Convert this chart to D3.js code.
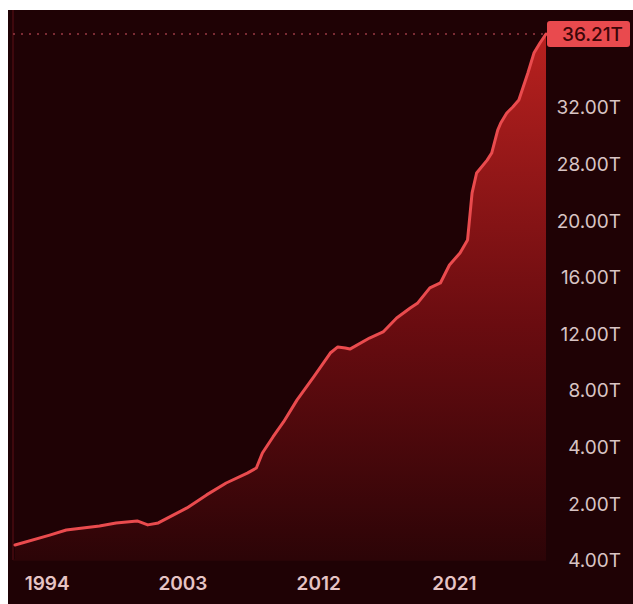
<!DOCTYPE html>
<html>
<head>
<meta charset="utf-8">
<script src="https://cdn.jsdelivr.net/npm/d3@7"></script>
<style>
  html, body { margin: 0; padding: 0; background: #fff; }
  svg { display: block; }
</style>
</head>
<body>
<svg width="633" height="604"></svg>
<script>
// Series: decimal year and value in trillions
const years = [1991.9, 1994.2, 1995.3, 1997.5, 1998.6, 2000.0, 2000.7, 2001.4, 2002.0, 2003.3,
  2004.6, 2005.9, 2007.3, 2007.9, 2008.3, 2009.0, 2009.7, 2010.6, 2011.7, 2012.8,
  2013.3, 2013.8, 2014.1, 2015.4, 2016.3, 2017.2, 2018.1, 2018.6, 2019.4, 2020.1,
  2020.7, 2021.4, 2021.9, 2022.2, 2022.5, 2023.2, 2023.5, 2023.9, 2024.1, 2024.5,
  2024.9, 2025.3, 2025.9, 2026.3, 2026.7, 2027.1];
const debt = [0.53, 0.88, 1.06, 1.20, 1.31, 1.38, 1.24, 1.31, 1.48, 1.84,
  2.30, 2.72, 3.07, 3.25, 3.78, 4.69, 5.75, 7.31, 8.93, 10.62,
  11.05, 10.98, 10.90, 11.68, 12.11, 13.10, 13.80, 14.16, 15.22, 15.57,
  16.84, 17.69, 18.61, 23.86, 26.68, 28.25, 28.75, 30.37, 30.87, 31.58,
  32.00, 32.40, 33.96, 35.11, 35.69, 36.21];

// Axis ticks as printed on the chart (the labels are not monotonic)
const yTickValues = [0, 2, 4, 8, 12, 16, 20, 28, 32];
const yTickLabels = ["4.00T", "2.00T", "4.00T", "8.00T", "12.00T", "16.00T", "20.00T", "28.00T", "32.00T"];
const lastValue = 36.21;
const lastLabel = "36.21T";
const xTickValues = [1994, 2003, 2012, 2021];

const W = 633, H = 604;
const plot = { left: 13, right: 546, top: 34, bottom: 560 };
const font = "Inter, 'Liberation Sans', sans-serif";

const svg = d3.select("svg");

// background (white border top/left like the screenshot)
svg.append("rect").attr("x", 8).attr("y", 10).attr("width", W - 8).attr("height", H - 10)
  .attr("fill", "#1f0205");

const defs = svg.append("defs");
const grad = defs.append("linearGradient").attr("id", "areaGrad")
  .attr("x1", 0).attr("y1", 0).attr("x2", 0).attr("y2", 1);
grad.append("stop").attr("offset", "0%").attr("stop-color", "#b8211f");
grad.append("stop").attr("offset", "55%").attr("stop-color", "#6a0c10");
grad.append("stop").attr("offset", "100%").attr("stop-color", "#2c0407");

// scales
const x = d3.scaleLinear().domain([years[0], years[years.length - 1]]).range([15, plot.right]);
const step = d3.scaleLinear().domain([0, yTickValues.length - 1]).range([plot.bottom, 107]);
const y = d3.scaleLinear()
  .domain(yTickValues.concat(lastValue))
  .range(yTickValues.map((d, i) => step(i)).concat(plot.top));

const data = years.map((yr, i) => ({ yr, v: debt[i] }));

// faint frame lines
svg.append("line").attr("x1", plot.left).attr("x2", plot.left).attr("y1", 10).attr("y2", plot.bottom)
  .attr("stroke", "#3e080d").attr("stroke-width", 2);
svg.append("line").attr("x1", plot.left).attr("x2", plot.right).attr("y1", plot.bottom).attr("y2", plot.bottom)
  .attr("stroke", "#33060a").attr("stroke-width", 1);

// area + line
const area = d3.area().x(d => x(d.yr)).y0(plot.bottom).y1(d => y(d.v));
const line = d3.line().x(d => x(d.yr)).y(d => y(d.v));

svg.append("path").datum(data).attr("d", area).attr("fill", "url(#areaGrad)");

// dotted last-value line
svg.append("line")
  .attr("x1", plot.left).attr("x2", x(years[years.length - 1]))
  .attr("y1", y(lastValue)).attr("y2", y(lastValue))
  .attr("stroke", "#9a3a44").attr("stroke-width", 1.5).attr("stroke-dasharray", "2,6");

svg.append("path").datum(data).attr("d", line)
  .attr("fill", "none").attr("stroke", "#ea4b4e").attr("stroke-width", 3)
  .attr("stroke-linejoin", "round").attr("stroke-linecap", "round");

// y axis (right)
const yAxis = d3.axisRight(y).tickValues(yTickValues)
  .tickFormat((d, i) => yTickLabels[i]).tickSize(0);
const gy = svg.append("g").attr("transform", `translate(${plot.right},0)`).call(yAxis);
gy.select(".domain").remove();
gy.selectAll("text")
  .attr("x", 75).attr("dy", "0.36em").attr("text-anchor", "end")
  .attr("fill", "#d8c4c4").attr("font-family", font)
  .attr("font-size", 19);

// last value badge
const badge = svg.append("g").attr("transform", `translate(0,${y(lastValue)})`);
badge.append("rect").attr("x", 547).attr("y", -13).attr("width", 83).attr("height", 26)
  .attr("rx", 3).attr("fill", "#e94a4e");
badge.append("text").attr("x", 623).attr("dy", "0.36em").attr("text-anchor", "end")
  .attr("fill", "#3c0608").attr("font-family", font)
  .attr("font-size", 19).attr("font-weight", 500).text(lastLabel);

// x axis
const xAxis = d3.axisBottom(x).tickValues(xTickValues).tickFormat(d3.format("d")).tickSize(0);
const gx = svg.append("g").attr("transform", `translate(0,${plot.bottom})`).call(xAxis);
gx.select(".domain").remove();
gx.selectAll("text")
  .attr("y", 23).attr("dy", "0.36em")
  .attr("fill", "#e6c4c4").attr("font-family", font)
  .attr("font-size", 19).attr("font-weight", 600);
</script>
</body>
</html>
